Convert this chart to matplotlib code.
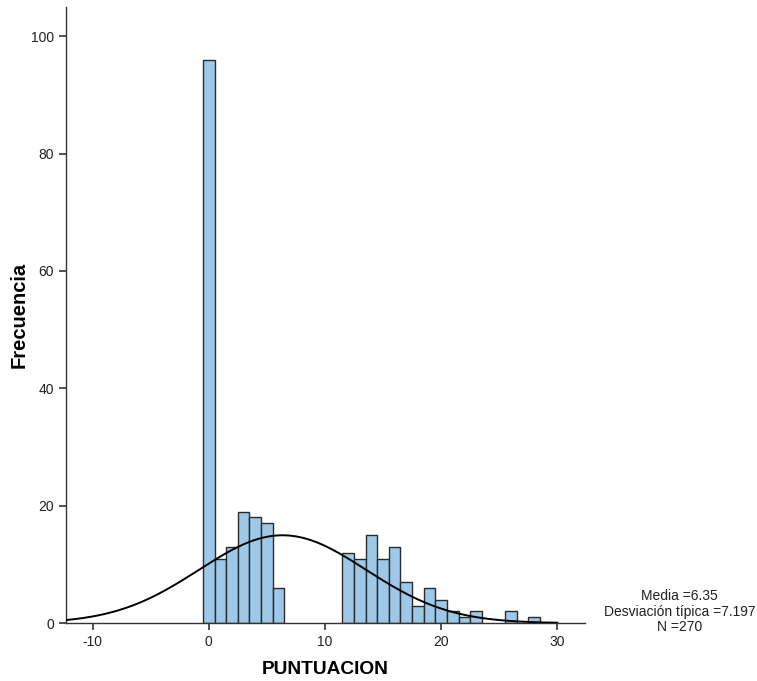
import matplotlib
matplotlib.use("Agg")
import matplotlib.pyplot as plt
import numpy as np

# frecuencias por puntuacion (ancho de barra = 1)
puntos = [0, 1, 2, 3, 4, 5, 6,
          12, 13, 14, 15, 16, 17, 18, 19, 20, 21, 22, 23, 26, 28]
frecuencias = [96, 11, 13, 19, 18, 17, 6,
               12, 11, 15, 11, 13, 7, 3, 6, 4, 2, 1, 2, 2, 1]

media = 6.35
desv = 7.197
n = 270

plt.rcParams["font.family"] = ["Liberation Sans", "DejaVu Sans"]
plt.rcParams["axes.unicode_minus"] = False

fig = plt.figure(figsize=(7.57, 6.81), dpi=100)
ax = fig.add_axes([0.087, 0.085, 0.686, 0.905])

ax.bar(puntos, frecuencias, width=1.0, color="#9ec8e8",
       edgecolor="#2b2b2b", linewidth=1.0, zorder=2)

# curva normal escalada a N * ancho de barra
xs = np.linspace(-12.3, 30, 400)
ys = n * np.exp(-0.5 * ((xs - media) / desv) ** 2) / (desv * np.sqrt(2 * np.pi))
ax.plot(xs, ys, color="black", linewidth=1.4, zorder=3)

ax.set_xlim(-12.3, 32.4)
ax.set_ylim(0, 105)
ax.set_xticks([-10, 0, 10, 20, 30])
ax.set_yticks([0, 20, 40, 60, 80, 100])

for s in ["top", "right"]:
    ax.spines[s].set_visible(False)
for s in ["left", "bottom"]:
    ax.spines[s].set_color("#333333")
    ax.spines[s].set_linewidth(1.0)
ax.tick_params(direction="out", length=5, width=1.2, color="#333333",
               labelsize=10, labelcolor="#222222")

ax.set_xlabel("PUNTUACION", fontsize=13.8, fontweight="bold", labelpad=9)
ax.set_ylabel("Frecuencia", fontsize=14.5, fontweight="bold", labelpad=2)

fig.text(0.898, 0.102,
         f"Media ={media}\nDesviación típica ={desv}\nN ={n}",
         ha="center", va="center", fontsize=10, linespacing=1.1,
         color="#222222")

fig.savefig("out.png", dpi=100, facecolor="white")
